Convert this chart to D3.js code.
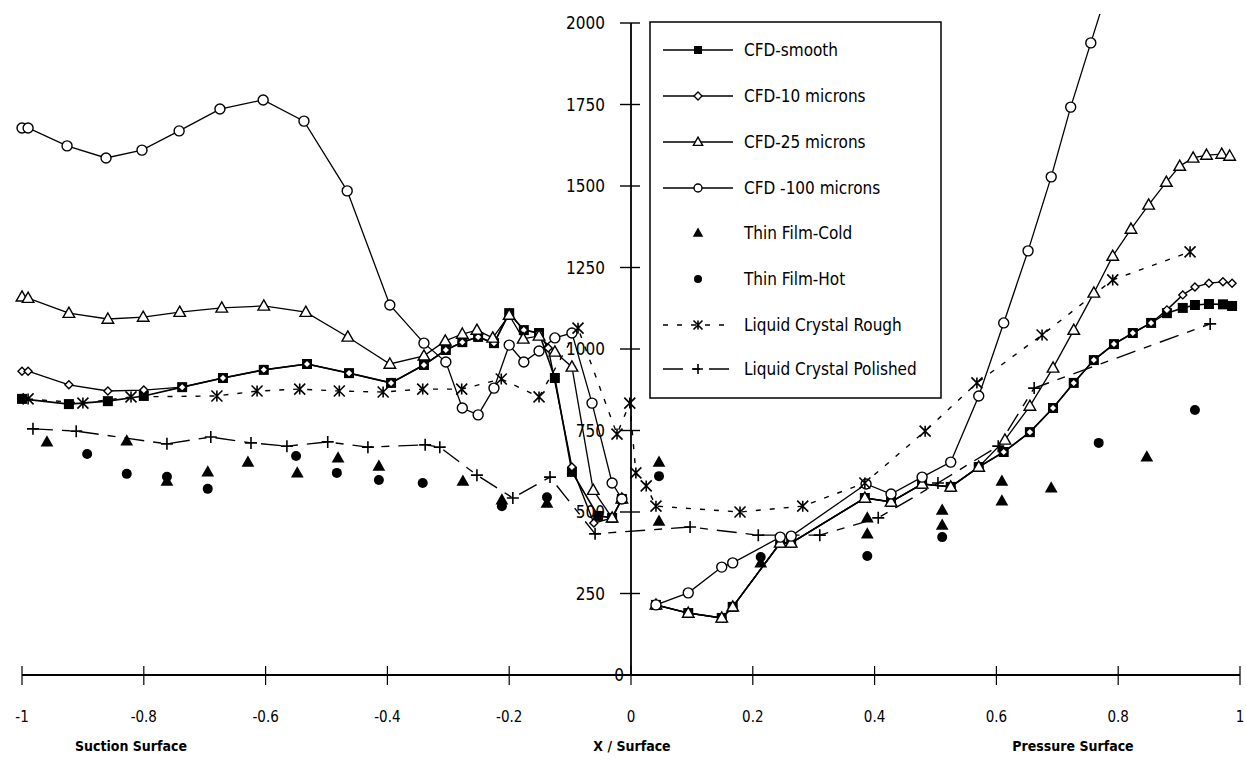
<!DOCTYPE html>
<html>
<head>
<meta charset="utf-8">
<script src="https://cdn.jsdelivr.net/npm/d3@7"></script>
<style>
  html, body { margin: 0; padding: 0; background: #fff; }
  svg { display: block; }
  text { font-family: "DejaVu Sans Condensed", "DejaVu Sans", sans-serif; fill: #000; }
</style>
</head>
<body>
<svg id="chart" width="1246" height="761"></svg>
<script>
// Heat transfer coefficient along the blade surface (suction side x<0, pressure side x>0)

const xTicks = [-1, -0.8, -0.6, -0.4, -0.2, 0, 0.2, 0.4, 0.6, 0.8, 1];
const xTickLabels = ["-1", "-0.8", "-0.6", "-0.4", "-0.2", "0", "0.2", "0.4", "0.6", "0.8", "1"];
const yTicks = [0, 250, 500, 750, 1000, 1250, 1500, 1750, 2000];

// null splits a series into suction-side and pressure-side pieces
const cfdSmooth = [
  [-1.0, 847], [-0.923, 831], [-0.859, 840], [-0.800, 856], [-0.737, 883], [-0.670, 911],
  [-0.603, 936], [-0.532, 954], [-0.463, 926], [-0.394, 896], [-0.340, 951], [-0.304, 997],
  [-0.277, 1021], [-0.251, 1037], [-0.225, 1018], [-0.200, 1110], [-0.176, 1058], [-0.151, 1049],
  [-0.125, 911], [-0.097, 623], [-0.054, 488], [-0.031, 482], [-0.015, 540],
  null,
  [0.041, 215], [0.094, 190], [0.149, 175], [0.167, 209], [0.245, 405], [0.263, 405],
  [0.384, 543], [0.427, 531], [0.478, 586], [0.525, 577], [0.571, 638], [0.612, 684],
  [0.655, 745], [0.693, 819], [0.727, 896], [0.760, 966], [0.793, 1015], [0.824, 1049],
  [0.854, 1080], [0.880, 1110], [0.906, 1126], [0.926, 1135], [0.949, 1138], [0.972, 1137], [0.987, 1132]
];

const cfd10 = [
  [-1.0, 932], [-0.99, 932], [-0.923, 890], [-0.859, 871], [-0.800, 874], [-0.737, 883], [-0.670, 911],
  [-0.603, 936], [-0.532, 954], [-0.463, 926], [-0.394, 896], [-0.340, 951], [-0.304, 997],
  [-0.277, 1021], [-0.251, 1037], [-0.225, 1018], [-0.200, 1110], [-0.176, 1058], [-0.151, 1049],
  [-0.136, 1003], [-0.097, 638], [-0.061, 466], [-0.031, 482], [-0.015, 540],
  null,
  [0.041, 215], [0.094, 190], [0.149, 175], [0.167, 209], [0.245, 405], [0.263, 405],
  [0.384, 543], [0.427, 531], [0.478, 586], [0.525, 577], [0.571, 638], [0.612, 684],
  [0.655, 745], [0.693, 819], [0.727, 896], [0.760, 966], [0.793, 1015], [0.824, 1049],
  [0.854, 1080], [0.880, 1120], [0.906, 1166], [0.926, 1190], [0.949, 1202], [0.972, 1206], [0.987, 1202]
];

const cfd25 = [
  [-1.0, 1160], [-0.99, 1156], [-0.923, 1110], [-0.859, 1092], [-0.801, 1098], [-0.741, 1113],
  [-0.672, 1126], [-0.603, 1132], [-0.534, 1113], [-0.465, 1037], [-0.396, 954], [-0.340, 979],
  [-0.305, 1025], [-0.277, 1046], [-0.253, 1058], [-0.227, 1034], [-0.200, 1104], [-0.177, 1031],
  [-0.151, 1040], [-0.125, 991], [-0.097, 945], [-0.062, 567], [-0.031, 482], [-0.015, 540],
  null,
  [0.041, 215], [0.094, 190], [0.149, 175], [0.167, 209], [0.245, 405], [0.263, 405],
  [0.384, 543], [0.427, 531], [0.478, 586], [0.525, 577], [0.571, 638], [0.614, 721],
  [0.655, 825], [0.693, 942], [0.727, 1058], [0.760, 1172], [0.791, 1285], [0.821, 1368],
  [0.850, 1442], [0.879, 1512], [0.901, 1561], [0.923, 1586], [0.945, 1595], [0.970, 1598], [0.983, 1592]
];

const cfd100 = [
  [-1.0, 1678], [-0.99, 1678], [-0.926, 1623], [-0.862, 1586], [-0.803, 1610], [-0.742, 1669],
  [-0.675, 1736], [-0.604, 1764], [-0.537, 1699], [-0.466, 1485], [-0.396, 1135], [-0.340, 1018],
  [-0.304, 960], [-0.277, 819], [-0.251, 798], [-0.225, 880], [-0.200, 1012], [-0.176, 960],
  [-0.151, 994], [-0.125, 1034], [-0.097, 1049], [-0.064, 834], [-0.031, 589], [-0.015, 540],
  null,
  [0.041, 215], [0.094, 252], [0.149, 331], [0.167, 344], [0.245, 423], [0.263, 426],
  [0.386, 586], [0.427, 555], [0.478, 607], [0.525, 653], [0.571, 856], [0.612, 1080],
  [0.652, 1301], [0.690, 1528], [0.722, 1742], [0.755, 1939], [0.788, 2135]
];

const thinFilmCold = [
  [-0.959, 715], [-0.828, 718], [-0.762, 595], [-0.695, 623], [-0.629, 653], [-0.548, 620],
  [-0.481, 666], [-0.414, 641], [-0.276, 595], [-0.212, 537], [-0.138, 527],
  [0.046, 653], [0.046, 472], [0.213, 344], [0.388, 482], [0.388, 433], [0.511, 506],
  [0.511, 460], [0.609, 595], [0.609, 534], [0.690, 574], [0.847, 669]
];

const thinFilmHot = [
  [-0.893, 678], [-0.828, 617], [-0.762, 608], [-0.695, 571], [-0.550, 672], [-0.483, 620],
  [-0.414, 598], [-0.342, 589], [-0.212, 518], [-0.138, 545], [0.046, 610], [0.213, 362],
  [0.388, 365], [0.511, 423], [0.768, 712], [0.926, 813]
];

const lcRough = [
  [-0.990, 847], [-0.900, 834], [-0.821, 853], [-0.680, 856], [-0.614, 871], [-0.544, 877],
  [-0.479, 871], [-0.407, 868], [-0.342, 877], [-0.278, 877], [-0.213, 908], [-0.151, 853],
  [-0.087, 1064], [-0.023, 739], [-0.002, 834], [0.008, 620], [0.025, 580], [0.041, 518],
  [0.179, 500], [0.282, 518], [0.384, 589], [0.483, 748], [0.568, 896], [0.675, 1043],
  [0.791, 1212], [0.918, 1298]
];

const lcPolished = [
  [-0.982, 755], [-0.911, 748], [-0.762, 709], [-0.690, 730], [-0.624, 712], [-0.565, 702],
  [-0.498, 715], [-0.432, 699], [-0.338, 706], [-0.314, 699], [-0.253, 613], [-0.194, 543],
  [-0.133, 607], [-0.059, 433], [0.097, 454], [0.209, 429], [0.310, 429], [0.406, 482],
  [0.504, 589], [0.603, 702], [0.662, 880], [0.951, 1077]
];

const legendLabels = [
  "CFD-smooth", "CFD-10 microns", "CFD-25 microns", "CFD -100 microns",
  "Thin Film-Cold", "Thin Film-Hot", "Liquid Crystal Rough", "Liquid Crystal Polished"
];

const svg = d3.select("#chart");
const x = d3.scaleLinear().domain([-1, 1]).range([22, 1240]);
const y = d3.scaleLinear().domain([0, 2000]).range([675, 23]);

// marker shapes
function square(g, s) { g.append("rect").attr("x", -s / 2).attr("y", -s / 2).attr("width", s).attr("height", s).attr("fill", "#000"); }
function diamond(g, s) { g.append("path").attr("d", `M0,${-s/2}L${s/2},0L0,${s/2}L${-s/2},0Z`).attr("fill", "#fff").attr("stroke", "#000").attr("stroke-width", 1.4); }
function triangleOpen(g, s) { g.append("path").attr("d", `M0,${-s*0.6}L${s*0.58},${s*0.42}L${-s*0.58},${s*0.42}Z`).attr("fill", "#fff").attr("stroke", "#000").attr("stroke-width", 1.4); }
function circleOpen(g, s) { g.append("circle").attr("r", s / 2).attr("fill", "#fff").attr("stroke", "#000").attr("stroke-width", 1.4); }
function triangleFilled(g, s) { g.append("path").attr("d", `M0,${-s*0.6}L${s*0.58},${s*0.42}L${-s*0.58},${s*0.42}Z`).attr("fill", "#000"); }
function dot(g, s) { g.append("circle").attr("r", s / 2).attr("fill", "#000"); }
function star(g, s) {
  const h = s / 2;
  g.append("path").attr("d", `M${-h},${-h}L${h},${h}M${h},${-h}L${-h},${h}M0,${-h}L0,${h}`)
    .attr("stroke", "#000").attr("stroke-width", 1.6).attr("fill", "none");
}
function plus(g, s) {
  const h = s / 2;
  g.append("path").attr("d", `M${-h},0L${h},0M0,${-h}L0,${h}`)
    .attr("stroke", "#000").attr("stroke-width", 1.6).attr("fill", "none");
}

const series = [
  { data: cfdSmooth, line: true, dash: null, width: 1.6, marker: square, size: 10 },
  { data: cfd10, line: true, dash: null, width: 1.4, marker: diamond, size: 8 },
  { data: cfd25, line: true, dash: null, width: 1.3, marker: triangleOpen, size: 10 },
  { data: cfd100, line: true, dash: null, width: 1.3, marker: circleOpen, size: 10 },
  { data: thinFilmCold, line: false, marker: triangleFilled, size: 11 },
  { data: thinFilmHot, line: false, marker: dot, size: 10 },
  { data: lcRough, line: true, dash: "5,9", width: 1.4, marker: star, size: 11 },
  { data: lcPolished, line: true, dash: "20,9,8,9", width: 1.4, marker: plus, size: 12 }
];

svg.append("defs").append("clipPath").attr("id", "plotClip")
  .append("rect").attr("x", 0).attr("y", 14).attr("width", 1246).attr("height", 740);

// axes
const xAxisG = svg.append("g").attr("transform", `translate(0,${y(0)})`);
xAxisG.append("line").attr("x1", x(-1)).attr("x2", x(1)).attr("stroke", "#000").attr("stroke-width", 1.8);
xAxisG.selectAll("line.tick").data(xTicks).join("line").attr("class", "tick")
  .attr("x1", d => x(d)).attr("x2", d => x(d)).attr("y1", -9).attr("y2", 10)
  .attr("stroke", "#000").attr("stroke-width", 1.2);
xAxisG.selectAll("text").data(xTicks).join("text")
  .attr("x", d => x(d)).attr("y", 47)
  .attr("text-anchor", "middle").attr("font-size", 15)
  .text((d, i) => xTickLabels[i]);

const yAxisG = svg.append("g").attr("transform", `translate(${x(0)},0)`);
yAxisG.append("line").attr("y1", y(0)).attr("y2", y(2000)).attr("stroke", "#000").attr("stroke-width", 1.8);
yAxisG.selectAll("line.tick").data(yTicks).join("line").attr("class", "tick")
  .attr("y1", d => y(d)).attr("y2", d => y(d)).attr("x1", -11).attr("x2", 9)
  .attr("stroke", "#000").attr("stroke-width", 1.4);
yAxisG.selectAll("text").data(yTicks).join("text")
  .attr("x", d => d === 0 ? -7 : -26).attr("y", d => y(d) + 6)
  .attr("text-anchor", "end").attr("font-size", 17)
  .text(d => d);

// axis titles
const titles = [
  { text: "Suction Surface", x: 131 },
  { text: "X / Surface", x: 632 },
  { text: "Pressure Surface", x: 1073 }
];
svg.selectAll("text.title").data(titles).join("text").attr("class", "title")
  .attr("x", d => d.x).attr("y", 751).attr("text-anchor", "middle")
  .attr("font-size", 14).attr("font-weight", "bold").text(d => d.text);

// series
const plot = svg.append("g").attr("clip-path", "url(#plotClip)");
const lineGen = d3.line().defined(d => d != null).x(d => x(d[0])).y(d => y(d[1]));

series.forEach(s => {
  if (s.line) {
    plot.append("path").datum(s.data).attr("d", lineGen)
      .attr("fill", "none").attr("stroke", "#000").attr("stroke-width", s.width)
      .attr("stroke-dasharray", s.dash);
  }
});
series.forEach(s => {
  s.data.filter(d => d != null && d[1] <= 2000).forEach(d => {
    const g = plot.append("g").attr("transform", `translate(${x(d[0])},${y(d[1])})`);
    s.marker(g, s.size);
  });
});

// legend
const legend = svg.append("g");
legend.append("rect").attr("x", 650).attr("y", 22).attr("width", 291).attr("height", 376)
  .attr("fill", "#fff").attr("stroke", "#000").attr("stroke-width", 1.5);
const rowY = [50, 96, 142, 188, 233, 279, 325, 369];
series.forEach((s, i) => {
  const ry = rowY[i];
  if (s.line) {
    legend.append("line").attr("x1", 663).attr("x2", 733).attr("y1", ry).attr("y2", ry)
      .attr("stroke", "#000").attr("stroke-width", s.width).attr("stroke-dasharray", s.dash);
  }
  const g = legend.append("g").attr("transform", `translate(698,${ry})`);
  s.marker(g, i < 4 ? 8 : s.size - 2);
  legend.append("text").attr("x", 744).attr("y", ry + 6).attr("font-size", 17).text(legendLabels[i]);
});
</script>
</body>
</html>
